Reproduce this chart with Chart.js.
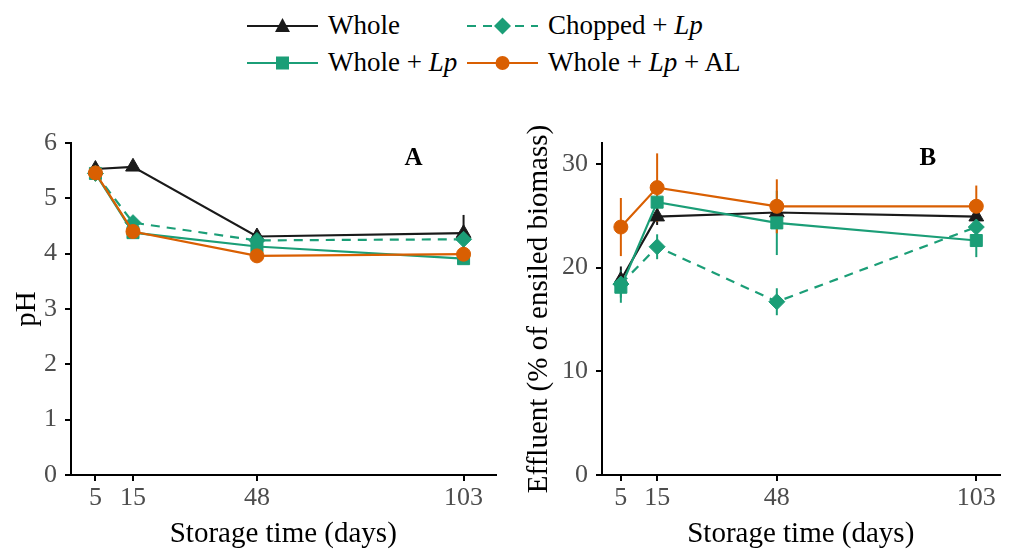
<!DOCTYPE html>
<html>
<head>
<meta charset="utf-8">
<script src="https://cdn.jsdelivr.net/npm/chart.js@4/dist/chart.umd.min.js"></script>
<style>
  body { margin: 0; background: #fff; width: 1009px; height: 552px; overflow: hidden; position: relative;
         font-family: "Liberation Serif", "Times New Roman", serif; }
  .panel { position: absolute; top: 90px; height: 462px; }
  .item { position: absolute; display: flex; align-items: center; font-size: 27px; line-height: 1; color: #000; white-space: nowrap; }
  .item svg { margin-right: 10px; }
</style>
</head>
<body>
<div id="legend"></div>
<canvas id="chartA" class="panel" style="left:0" width="505" height="462"></canvas>
<canvas id="chartB" class="panel" style="left:505px" width="504" height="462"></canvas>
<script>
// Datos
const days = [5, 15, 48, 103];
const seriesNames = ['Whole', 'Whole + Lp', 'Chopped + Lp', 'Whole + Lp + AL'];

// Panel A: pH
const phWhole = [5.53, 5.57, 4.31, 4.37];
const phWholeLp = [5.45, 4.38, 4.13, 3.91];
const phChoppedLp = [5.45, 4.56, 4.24, 4.26];
const phWholeLpAl = [5.46, 4.40, 3.96, 3.99];
const phWholeErr = [0.06, 0.05, 0.06, 0.33];
const phWholeLpErr = [0.04, 0.04, 0.04, 0.04];
const phChoppedLpErr = [0.04, 0.05, 0.04, 0.05];
const phWholeLpAlErr = [0.04, 0.04, 0.04, 0.04];
const phTicks = [0, 1, 2, 3, 4, 5, 6];

// Panel B: efluente (% de biomasa ensilada)
const effWhole = [18.8, 24.9, 25.3, 24.9];
const effWholeLp = [18.1, 26.3, 24.3, 22.6];
const effChoppedLp = [18.4, 22.0, 16.7, 23.9];
const effWholeLpAl = [23.9, 27.7, 25.9, 25.9];
const effWholeErr = [1.3, 0.8, 0.6, 0.6];
const effWholeLpErr = [1.5, 0.8, 3.1, 1.6];
const effChoppedLpErr = [1.3, 1.2, 1.3, 0.8];
const effWholeLpAlErr = [2.8, 3.3, 2.6, 2.0];
const effTicks = [0, 10, 20, 30];

const FONT = "'Liberation Serif', 'Times New Roman', serif";
const BLACK = '#1a1a1a';
const GREEN = '#1b9e77';
const ORANGE = '#d95f02';

Chart.defaults.font.family = FONT;

// Estilos de cada serie
const styles = [
  { color: BLACK, point: 'triangle', radius: 8.5, dash: [], order: 4 },
  { color: GREEN, point: 'rect', radius: 8.5, dash: [], order: 3 },
  { color: GREEN, point: 'rectRot', radius: 8, dash: [9, 7], order: 2 },
  { color: ORANGE, point: 'circle', radius: 7, dash: [], order: 1 }
];

function makeDatasets(values, errors) {
  return values.map((vals, i) => ({
    label: seriesNames[i],
    data: days.map((d, j) => ({ x: d, y: vals[j] })),
    errors: errors[i],
    borderColor: styles[i].color,
    backgroundColor: styles[i].color,
    borderWidth: 2.2,
    borderDash: styles[i].dash,
    pointStyle: styles[i].point,
    pointRadius: styles[i].radius,
    pointBorderWidth: 1,
    pointBorderColor: styles[i].color,
    pointBackgroundColor: styles[i].color,
    order: styles[i].order,
    tension: 0
  }));
}

// Plugin para las barras de error
const errorBars = {
  id: 'errorBars',
  beforeDatasetsDraw(chart) {
    const ctx = chart.ctx;
    const x = chart.scales.x, y = chart.scales.y;
    ctx.save();
    chart.data.datasets.forEach(ds => {
      ctx.strokeStyle = ds.borderColor;
      ctx.lineWidth = 2;
      ctx.setLineDash([]);
      ds.data.forEach((p, j) => {
        const e = ds.errors[j];
        const px = x.getPixelForValue(p.x);
        ctx.beginPath();
        ctx.moveTo(px, y.getPixelForValue(p.y - e));
        ctx.lineTo(px, y.getPixelForValue(p.y + e));
        ctx.stroke();
      });
    });
    ctx.restore();
  }
};

// Plugin para la letra del panel
const panelLabel = {
  id: 'panelLabel',
  afterDraw(chart, args, opts) {
    const { ctx, chartArea } = chart;
    ctx.save();
    ctx.font = 'bold 25px ' + FONT;
    ctx.fillStyle = '#000';
    ctx.textAlign = 'center';
    ctx.textBaseline = 'middle';
    ctx.fillText(opts.text, chartArea.left + opts.fx * (chartArea.right - chartArea.left), chartArea.top + 16);
    ctx.restore();
  }
};

function makeChart(id, cfg) {
  return new Chart(document.getElementById(id), {
    type: 'line',
    data: { datasets: makeDatasets(cfg.values, cfg.errors) },
    plugins: [errorBars, panelLabel],
    options: {
      responsive: false,
      animation: false,
      layout: { padding: { top: 53, right: cfg.padRight, left: 0, bottom: 0 } },
      plugins: {
        legend: { display: false },
        tooltip: { enabled: false },
        panelLabel: { text: cfg.label, fx: cfg.labelX }
      },
      scales: {
        x: {
          type: 'linear',
          min: cfg.xMin,
          max: cfg.xMax,
          afterBuildTicks: s => { s.ticks = days.map(v => ({ value: v })); },
          afterFit: s => { s.height = 77; },
          grid: { display: true, drawOnChartArea: false, drawTicks: true, tickLength: 6, color: '#000', lineWidth: 2 },
          border: { display: true, color: '#000', width: 2 },
          ticks: { color: '#4d4d4d', font: { size: 26 }, padding: 2, maxRotation: 0, autoSkip: false },
          title: { display: true, text: 'Storage time (days)', color: '#000', font: { size: 29 }, padding: { top: 0, bottom: 0 } }
        },
        y: {
          type: 'linear',
          min: cfg.yMin,
          max: cfg.yMax,
          afterBuildTicks: s => { s.ticks = cfg.yTicks.map(v => ({ value: v })); },
          afterFit: s => { s.width = cfg.yWidth; },
          grid: { display: true, drawOnChartArea: false, drawTicks: true, tickLength: 6, color: '#000', lineWidth: 2 },
          border: { display: true, color: '#000', width: 2 },
          ticks: { color: '#4d4d4d', font: { size: 26 }, padding: 8 },
          title: { display: true, text: cfg.yTitle, color: '#000', font: { size: 29 }, padding: { top: cfg.yTitlePad, bottom: 0 } }
        }
      }
    }
  });
}

makeChart('chartA', {
  values: [phWhole, phWholeLp, phChoppedLp, phWholeLpAl],
  errors: [phWholeErr, phWholeLpErr, phChoppedLpErr, phWholeLpAlErr],
  xMin: -1.5, xMax: 111.5, yMin: 0, yMax: 6, yTicks: phTicks,
  yWidth: 71, padRight: 8, yTitle: 'pH', yTitlePad: 10, label: 'A', labelX: 0.807
});

makeChart('chartB', {
  values: [effWhole, effWholeLp, effChoppedLp, effWholeLpAl],
  errors: [effWholeErr, effWholeLpErr, effChoppedLpErr, effWholeLpAlErr],
  xMin: -0.2, xMax: 109.4, yMin: 0, yMax: 32, yTicks: effTicks,
  yWidth: 97, padRight: 1, yTitle: 'Effluent (% of ensiled biomass)', yTitlePad: 17, label: 'B', labelX: 0.82
});

// Leyenda en HTML (para poder poner "Lp" en cursiva)
const legendPos = [
  { left: 247, top: 25 }, { left: 247, top: 62 }, { left: 467, top: 25 }, { left: 467, top: 62 }
];
function markerSvg(i) {
  const c = styles[i].color;
  if (styles[i].point === 'triangle') return `<polygon points="35.5,2 43,16 28,16" fill="${c}"/>`;
  if (styles[i].point === 'rect') return `<rect x="29" y="3.5" width="13" height="13" fill="${c}"/>`;
  if (styles[i].point === 'rectRot') return `<polygon points="35.5,1.5 44,10 35.5,18.5 27,10" fill="${c}"/>`;
  return `<circle cx="35.5" cy="10" r="7" fill="${c}"/>`;
}
const legend = document.getElementById('legend');
seriesNames.forEach((name, i) => {
  const div = document.createElement('div');
  div.className = 'item';
  div.style.left = legendPos[i].left + 'px';
  div.style.top = (legendPos[i].top - 13) + 'px';
  const dash = styles[i].dash.length ? `stroke-dasharray="${styles[i].dash.join(' ')}"` : '';
  const svg = `<svg width="71" height="20"><line x1="0" y1="10" x2="71" y2="10" stroke="${styles[i].color}" stroke-width="2.2" ${dash}/>${markerSvg(i)}</svg>`;
  const label = name.replace('Lp', '<i>Lp</i>');
  div.innerHTML = svg + '<span>' + label + '</span>';
  legend.appendChild(div);
});
</script>
</body>
</html>
